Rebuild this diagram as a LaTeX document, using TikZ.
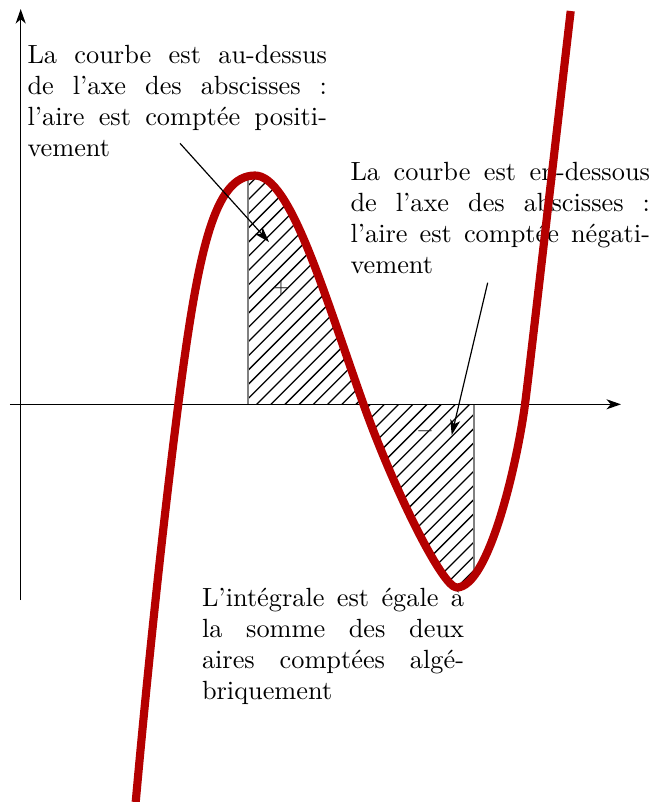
\documentclass[tikz,border=0pt]{standalone}
\usepackage{fontspec}
\usetikzlibrary{arrows.meta}
\definecolor{curvered}{RGB}{180,0,0}
\hyphenpenalty=10000
\exhyphenpenalty=10000
\tolerance=9999
\hbadness=10000
\begin{document}
\begin{tikzpicture}[x=0.38pt,y=-0.38pt,
  axisline/.style={line width=0.6pt,-{Stealth[length=5.5pt,width=3.8pt,inset=1.6pt]}},
  callout/.style={line width=0.45pt,-{Stealth[length=5.8pt,width=3.8pt,inset=1.6pt]}},
  curvestyle/.style={curvered,line width=3.1pt,line join=round},
  bound/.style={black!50,line width=0.7pt},
  hatchline/.style={black,line width=0.5pt},
  note/.style={anchor=base west,inner sep=0pt,align=justify,font=\fontsize{10}{11.8}\selectfont},
  sign/.style={inner sep=0pt,font=\footnotesize,text=black!85}
]
\useasboundingbox (0,0) rectangle (668,802);
% hatched area
\begin{scope}
\clip (247.7,0) rectangle (474.3,802);
\clip (135.7,802) .. controls (149.7,648) and (164.3,513.5) .. (178.3,404.3)
  .. controls (198.3,248.3) and (214.6,175.5) .. (255,175.5)
  .. controls (290,175.5) and (323.5,291.9) .. (363.5,404.3)
  .. controls (393.5,488.6) and (442.4,587.5) .. (456.7,587.5)
  .. controls (488.6,587.5) and (517,464.3) .. (525,404.3)
  .. controls (529,374.3) and (555.7,140) .. (570.7,11)
  -- (570.7,404.3) -- (135.7,404.3) -- cycle;
\foreach \c in {419.6,433.8,...,1075}
  \draw[hatchline] (\c-620,620) -- (\c-150,150);
\end{scope}
% bounds of the integral
\draw[bound] (247.7,404.3) -- (247.7,178);
\draw[bound] (474.3,404.3) -- (474.3,570);
% axes
\coordinate (xs) at (10,404.3);
\coordinate (xe) at (621,404.3);
\coordinate (ys) at (20.7,600);
\coordinate (ye) at (20.7,9);
\draw[axisline] (xs) -- (xe);
\draw[axisline] (ys) -- (ye);
% signs
\node[sign] (plus) at (281,288) {$+$};
\node[sign] (minus) at (425,431) {$-$};
% texts
\node[note,text width=4cm] (n1) at (27,63.3) {La courbe est au-dessus\linebreak de l’axe des abscisses~:\linebreak l’aire est comptée positi-\linebreak vement};
\node[note,text width=4cm] (n2) at (350,180) {La courbe est en-dessous\linebreak de l’axe des abscisses~:\linebreak l’aire est comptée négati-\linebreak vement};
\node[note,text width=3.5cm] (n3) at (201.5,606.7) {L’intégrale est égale à\linebreak la somme des deux\linebreak aires comptées algé-\linebreak briquement};
% curve
\draw[curvestyle] (135.7,802) .. controls (149.7,648) and (164.3,513.5) .. (178.3,404.3)
  .. controls (198.3,248.3) and (214.6,175.5) .. (255,175.5)
  .. controls (290,175.5) and (323.5,291.9) .. (363.5,404.3)
  .. controls (393.5,488.6) and (442.4,587.5) .. (456.7,587.5)
  .. controls (488.6,587.5) and (517,464.3) .. (525,404.3)
  .. controls (529,374.3) and (555.7,140) .. (570.7,11);
% callouts
\coordinate (a1s) at (180,143.3);
\coordinate (a1e) at (269,242);
\coordinate (a2s) at (487.7,282.7);
\coordinate (a2e) at (451.7,435);
\draw[callout] (a1s) -- (a1e);
\draw[callout] (a2s) -- (a2e);
\end{tikzpicture}
\end{document}
